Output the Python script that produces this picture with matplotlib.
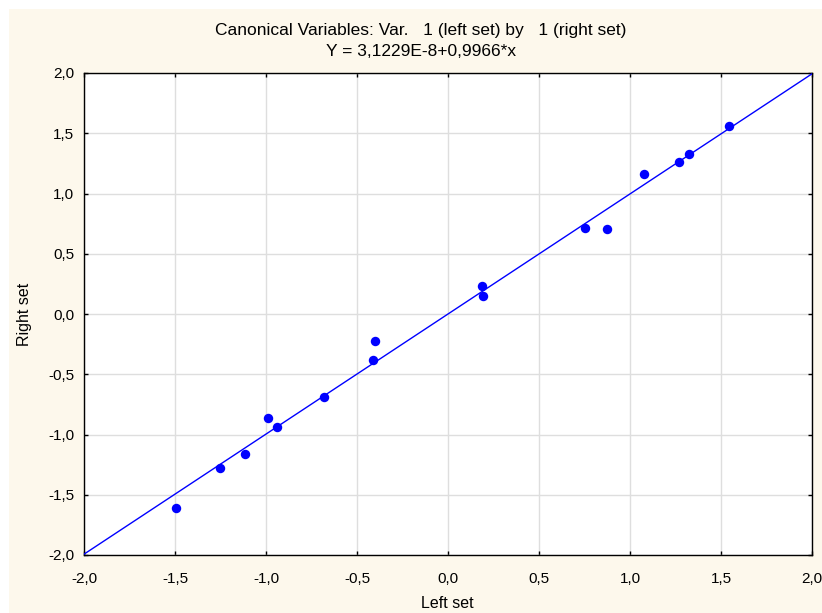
import numpy as np
import matplotlib
matplotlib.use("Agg")
import matplotlib.pyplot as plt
from matplotlib.patches import Rectangle
from matplotlib.ticker import FuncFormatter, MultipleLocator

plt.rcParams['font.family'] = ['Liberation Sans', 'DejaVu Sans']

left_set = [-1.494, -1.253, -1.115, -0.989, -0.940, -0.681, -0.401, -0.412,
            0.187, 0.192, 0.753, 0.874, 1.077, 1.269, 1.324, 1.544]
right_set = [-1.612, -1.278, -1.162, -0.863, -0.938, -0.686, -0.222, -0.382,
             0.232, 0.147, 0.716, 0.702, 1.164, 1.261, 1.325, 1.560]
intercept = 3.1229e-8
slope = 0.9966
title1 = "Canonical Variables: Var.   1 (left set) by   1 (right set)"
title2 = "Y = 3,1229E-8+0,9966*x"

W, H = 822, 613
fig = plt.figure(figsize=(W/100, H/100), dpi=100, facecolor='white')
fig.patches.append(Rectangle((9/W, 0/H), (W-9)/W, (H-8)/H - 1/H,
                             transform=fig.transFigure, facecolor='#FDF8EC',
                             edgecolor='none', zorder=-10))

ax = fig.add_axes([84/W, 1-555/H, (812-84)/W, (555-73)/H])
ax.set_facecolor('white')
ax.set_xlim(-2, 2)
ax.set_ylim(-2, 2)
ax.xaxis.set_major_locator(MultipleLocator(0.5))
ax.yaxis.set_major_locator(MultipleLocator(0.5))
fmt = FuncFormatter(lambda v, p: f"{v:.1f}".replace('.', ',').replace('-0,0', '0,0'))
ax.xaxis.set_major_formatter(fmt)
ax.yaxis.set_major_formatter(fmt)
ax.grid(True, color='#DEDEDE', linewidth=1.0)
ax.set_axisbelow(True)
ax.tick_params(direction='in', length=3, width=1, top=True, right=True,
               labelsize=11, color='black')
ax.tick_params(axis='x', pad=12)
ax.tick_params(axis='y', pad=7)
for s in ax.spines.values():
    s.set_linewidth(1.0)
    s.set_color('black')

xl = np.array([-2.0, 2.0])
ax.plot(xl, intercept + slope * xl, color='#0000FF', linewidth=1.0, zorder=3)
ax.plot(left_set, right_set, 'o', color='#0000FF', markersize=6.8,
        markeredgewidth=0, zorder=4, clip_on=False)

fig.text(421/W, 1-31/H, title1, ha='center', va='center', fontsize=12.5)
fig.text(421/W, 1-51/H, title2, ha='center', va='center', fontsize=12.5)
fig.text(447/W, 1-603/H, "Left set", ha='center', va='center', fontsize=11.5)
fig.text(24/W, 1-314/H, "Right set", ha='center', va='center', fontsize=11.5,
         rotation=90)

fig.savefig("out.png", dpi=100, facecolor=fig.get_facecolor())
